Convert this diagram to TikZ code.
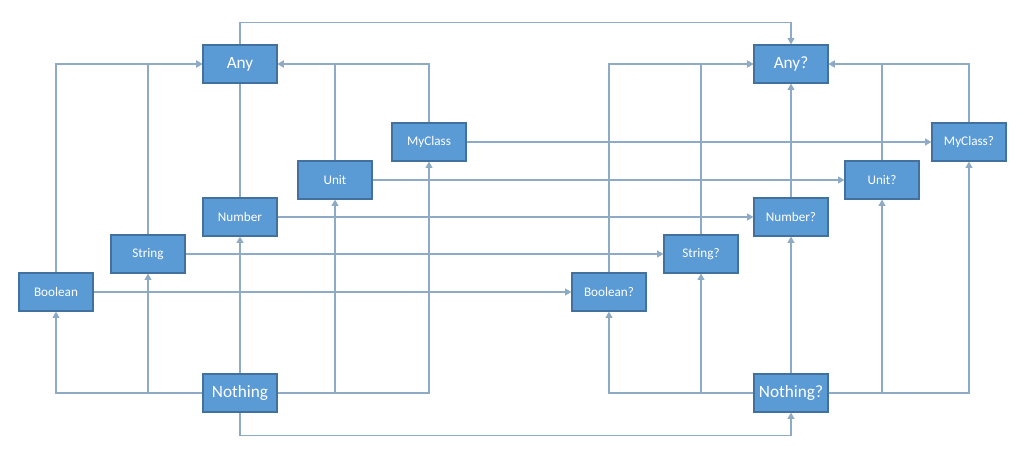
\documentclass[tikz,border=0pt]{standalone}
\usepackage{fontspec}
\setsansfont{Carlito}
\usetikzlibrary{arrows.meta}
\definecolor{ktFill}{HTML}{5B9BD5}
\definecolor{ktEdge}{HTML}{41719C}
\definecolor{ktLine}{HTML}{8EAAC4}
\tikzset{
  typebox/.style={draw=ktEdge,line width=.6pt,fill=ktFill,text=white,
    font=\sffamily\fontsize{7.5}{9}\selectfont,
    minimum width=1.48cm,minimum height=.76cm,inner sep=0pt},
  topbox/.style={typebox,font=\sffamily\fontsize{9.8}{12}\selectfont},
  link/.style={-{Triangle[length=3.6pt,width=3.8pt]},draw=ktLine,line width=.9pt},
  plain/.style={draw=ktLine,line width=.9pt},
}
\begin{document}
\begin{tikzpicture}[x=1cm,y=1cm]
  \useasboundingbox (0,0) rectangle (20.48,9.2);
  % non-null types
  \node[topbox] (any) at (4.80,7.92) {Any};
  \node[typebox] (myclass) at (8.58,6.36) {MyClass};
  \node[typebox] (unit) at (6.70,5.60) {Unit};
  \node[typebox] (number) at (4.80,4.86) {Number};
  \node[typebox] (string) at (2.96,4.12) {String};
  \node[typebox] (boolean) at (1.12,3.36) {Boolean};
  \node[topbox] (nothing) at (4.80,1.34) {Nothing};
  % nullable types
  \node[topbox] (anyq) at (15.82,7.92) {Any?};
  \node[typebox] (myclassq) at (19.38,6.36) {MyClass?};
  \node[typebox] (unitq) at (17.64,5.60) {Unit?};
  \node[typebox] (numberq) at (15.82,4.86) {Number?};
  \node[typebox] (stringq) at (14.02,4.12) {String?};
  \node[typebox] (booleanq) at (12.18,3.36) {Boolean?};
  \node[topbox] (nothingq) at (15.82,1.34) {Nothing?};
  % subtype edges on both sides
  \foreach \s in {,q} {
    \foreach \n in {boolean,string} {
      \draw[link] (\n\s.north) |- (any\s.west);
      \draw[link] (nothing\s.west) -| (\n\s.south);
    }
    \foreach \n in {unit,myclass} {
      \draw[link] (\n\s.north) |- (any\s.east);
      \draw[link] (nothing\s.east) -| (\n\s.south);
    }
    \draw[link] (nothing\s.north) -- (number\s.south);
  }
  \draw[plain] (number.north) -- (any.south);
  \draw[link] (numberq.north) -- (anyq.south);
  % T to T?
  \foreach \n in {myclass,unit,number,string,boolean} {
    \draw[link] (\n.east) -- (\n q.west);
  }
  \draw[link] (any.north) -- ++(0,.44) -| (anyq.north);
  \draw[link] (nothing.south) -- ++(0,-.46) -| (nothingq.south);
\end{tikzpicture}
\end{document}
